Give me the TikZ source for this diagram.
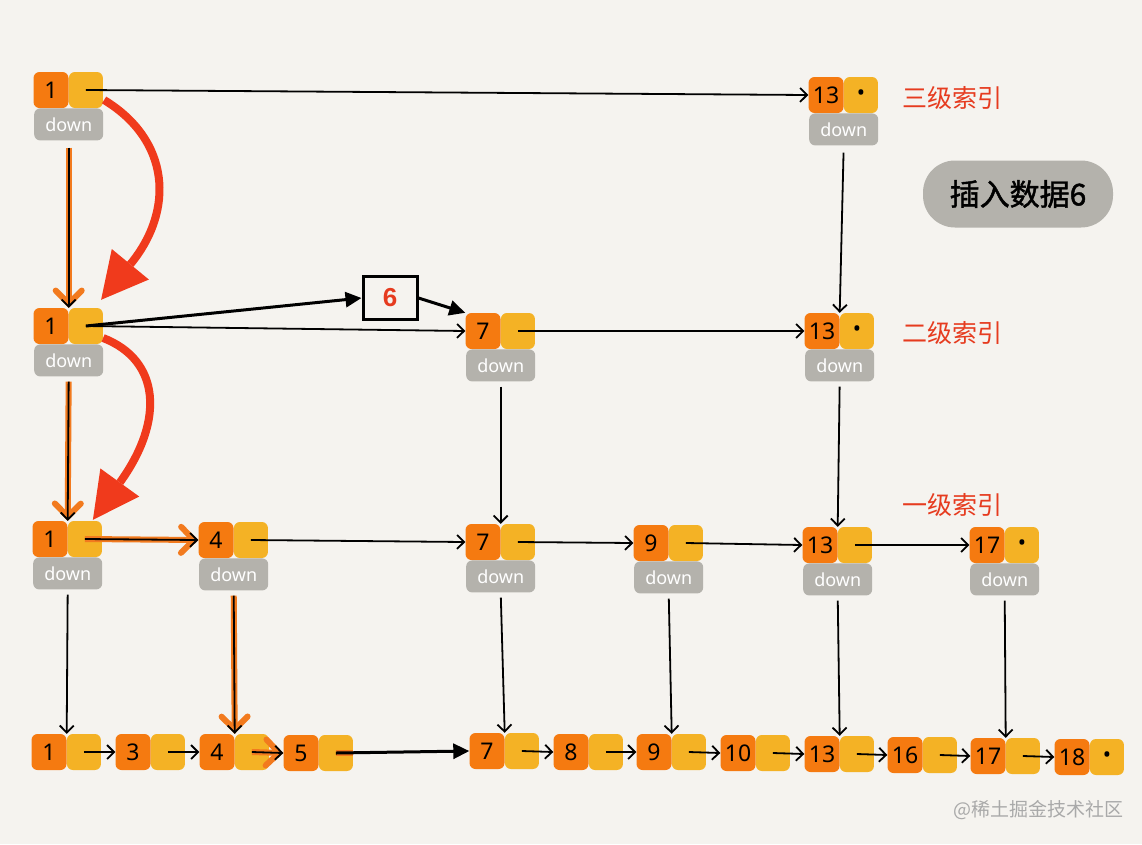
\documentclass[tikz,border=0pt]{standalone}
\usepackage{fontspec}
\setmainfont{Noto Sans}
\newfontfamily\cjk{Noto Sans CJK SC}
\newfontfamily\cjkbold[FakeBold=1.5]{Noto Sans CJK SC}
\newfontfamily\boldsans{Liberation Sans}
\usetikzlibrary{positioning,arrows.meta,calc}
\definecolor{bgc}{HTML}{F5F3EF}
\definecolor{keyc}{HTML}{F57A10}
\definecolor{ptrc}{HTML}{F4B225}
\definecolor{downc}{HTML}{B4B2AC}
\definecolor{redc}{HTML}{F03A1C}
\definecolor{redl}{HTML}{E63B1F}
\definecolor{trailc}{HTML}{F27A1E}
\definecolor{markc}{HTML}{A9A9A9}
\tikzset{
  keybox/.style={fill=keyc, rounded corners=6pt, minimum width=35pt, minimum height=36pt, inner sep=0pt, font=\fontsize{23}{23}\selectfont},
  ptrbox/.style={fill=ptrc, rounded corners=6pt, minimum width=34pt, minimum height=36pt, inner sep=0pt, font=\fontsize{22}{22}\selectfont},
  downbox/.style={fill=downc, rounded corners=6pt, minimum width=69pt, minimum height=32pt, inner sep=0pt, text=white, font=\fontsize{18}{18}\selectfont},
  link/.style={draw, line width=1.8pt, -{Straight Barb[length=7pt,width=14pt]}},
  newlink/.style={draw, line width=3pt, -{Triangle[length=16pt,width=15pt]}},
  trail/.style={draw=trailc, line width=6pt, -{Straight Barb[length=13pt,width=26pt,line cap=round]}},
  redcurve/.style={draw=redc, line width=8pt, -{Triangle[length=46pt,width=48pt,line width=0pt]}},
  level/.style={text=redl, font=\cjk\fontsize{25}{25}\selectfont},
}
\begin{document}
\begin{tikzpicture}[x=1pt,y=-1pt]
    \useasboundingbox (0,0) rectangle (1142,844);
    \fill[bgc] (0,0) rectangle (1142,844);

    % level 3
    \node[keybox] (k3a) at (51,90) {1};
    \node[ptrbox, right=0pt of k3a] (p3a) {};
    \node[downbox, below=0pt of k3a.south east] (d3a) {down};
    \node[keybox] (k3b) at (826,95) {13};
    \node[ptrbox, right=0pt of k3b] (p3b) {\textbullet};
    \node[downbox, below=0pt of k3b.south east] (d3b) {down};
    \node[level] (lab3) at (952,98) {三级索引};
    \node[fill=downc, rounded corners=32pt, minimum width=190pt, minimum height=67pt, font=\cjkbold\fontsize{30}{30}\selectfont] (note) at (1018,194) {插入数据6};

    % level 2
    \node[keybox] (k2a) at (51,326) {1};
    \node[ptrbox, right=0pt of k2a] (p2a) {};
    \node[downbox, below=0pt of k2a.south east] (d2a) {down};
    \node[keybox] (k2b) at (483,331) {7};
    \node[ptrbox, right=0pt of k2b] (p2b) {};
    \node[downbox, below=0pt of k2b.south east] (d2b) {down};
    \node[keybox] (k2c) at (822,331) {13};
    \node[ptrbox, right=0pt of k2c] (p2c) {\textbullet};
    \node[downbox, below=0pt of k2c.south east] (d2c) {down};
    \node[level] (lab2) at (952,333) {二级索引};
    \node[draw, line width=3pt, minimum width=54pt, minimum height=43pt, text=redl, font=\boldsans\bfseries\fontsize{26}{26}\selectfont] (six) at (390,298) {6};

    % level 1
    \node[keybox] (k1a) at (50,539) {1};
    \node[ptrbox, right=0pt of k1a] (p1a) {};
    \node[downbox, below=0pt of k1a.south east] (d1a) {down};
    \node[keybox] (k1b) at (216,540) {4};
    \node[ptrbox, right=0pt of k1b] (p1b) {};
    \node[downbox, below=0pt of k1b.south east] (d1b) {down};
    \node[keybox] (k1c) at (483,542) {7};
    \node[ptrbox, right=0pt of k1c] (p1c) {};
    \node[downbox, below=0pt of k1c.south east] (d1c) {down};
    \node[keybox] (k1d) at (651,543) {9};
    \node[ptrbox, right=0pt of k1d] (p1d) {};
    \node[downbox, below=0pt of k1d.south east] (d1d) {down};
    \node[keybox] (k1e) at (820,545) {13};
    \node[ptrbox, right=0pt of k1e] (p1e) {};
    \node[downbox, below=0pt of k1e.south east] (d1e) {down};
    \node[keybox] (k1f) at (987,545) {17};
    \node[ptrbox, right=0pt of k1f] (p1f) {\textbullet};
    \node[downbox, below=0pt of k1f.south east] (d1f) {down};
    \node[level] (lab1) at (952,505) {一级索引};

    % raw list
    \node[keybox] (k0a) at (49,752) {1};
    \node[ptrbox, right=0pt of k0a] (p0a) {};
    \node[keybox] (k0b) at (133,752) {3};
    \node[ptrbox, right=0pt of k0b] (p0b) {};
    \node[keybox] (k0c) at (217,752) {4};
    \node[ptrbox, right=0pt of k0c] (p0c) {};
    \node[keybox] (k0d) at (301,753) {5};
    \node[ptrbox, right=0pt of k0d] (p0d) {};
    \node[keybox] (k0e) at (487,751) {7};
    \node[ptrbox, right=0pt of k0e] (p0e) {};
    \node[keybox] (k0f) at (571,752) {8};
    \node[ptrbox, right=0pt of k0f] (p0f) {};
    \node[keybox] (k0g) at (654,752) {9};
    \node[ptrbox, right=0pt of k0g] (p0g) {};
    \node[keybox] (k0h) at (738,753) {10};
    \node[ptrbox, right=0pt of k0h] (p0h) {};
    \node[keybox] (k0i) at (822,754) {13};
    \node[ptrbox, right=0pt of k0i] (p0i) {};
    \node[keybox] (k0j) at (905,755) {16};
    \node[ptrbox, right=0pt of k0j] (p0j) {};
    \node[keybox] (k0k) at (988,756) {17};
    \node[ptrbox, right=0pt of k0k] (p0k) {};
    \node[keybox] (k0l) at (1072,757) {18};
    \node[ptrbox, right=0pt of k0l] (p0l) {\textbullet};
    \node[text=markc, font=\cjk\fontsize{19}{19}\selectfont] (mark) at (1038,810) {@稀土掘金技术社区};

    % search path
    \draw[trail, shorten <=7pt] (d3a.south) -- (k2a.north east);
    \draw[trail, shorten <=5pt] (d2a.south) -- (k1a.north east);
    \draw[trail] (p1a.center) -- (k1b.west);
    \draw[trail, shorten <=5pt] (d1b.south) -- (k0c.north east);
    \draw[trail] (p0c.center) -- (k0d.west);
    \draw[draw=trailc, line width=6pt] (p0d.center) -- (p0d.east);

    % links
    \draw[link] (p3a.center) -- (k3b.west);
    \draw[link, shorten <=7pt] (d3a.south) -- (k2a.north east);
    \draw[link, shorten <=7pt] (d3b.south) -- (k2c.north east);
    \draw[link] (p2a.center) -- (k2b.west);
    \draw[link] (p2b.center) -- (k2c.west);
    \draw[link, shorten <=5pt] (d2a.south) -- (k1a.north east);
    \draw[link, shorten <=5pt] (d2b.south) -- (k1c.north east);
    \draw[link, shorten <=5pt] (d2c.south) -- (k1e.north east);
    \draw[link] (p1a.center) -- (k1b.west);
    \draw[link] (p1b.center) -- (k1c.west);
    \draw[link] (p1c.center) -- (k1d.west);
    \draw[link] (p1d.center) -- (k1e.west);
    \draw[link] (p1e.center) -- (k1f.west);
    \draw[link, shorten <=5pt] (d1a.south) -- (k0a.north east);
    \draw[link, shorten <=5pt] (d1b.south) -- (k0c.north east);
    \draw[link, shorten <=5pt] (d1c.south) -- (k0e.north east);
    \draw[link, shorten <=5pt] (d1d.south) -- (k0g.north east);
    \draw[link, shorten <=5pt] (d1e.south) -- (k0i.north east);
    \draw[link, shorten <=5pt] (d1f.south) -- (k0k.north east);
    \draw[link] (p0a.center) -- (k0b.west);
    \draw[link] (p0b.center) -- (k0c.west);
    \draw[link] (p0c.center) -- (k0d.west);
    \draw[link] (p0e.center) -- (k0f.west);
    \draw[link] (p0f.center) -- (k0g.west);
    \draw[link] (p0g.center) -- (k0h.west);
    \draw[link] (p0h.center) -- (k0i.west);
    \draw[link] (p0i.center) -- (k0j.west);
    \draw[link] (p0j.center) -- (k0k.west);
    \draw[link] (p0k.center) -- (k0l.west);

    % new node 6
    \draw[newlink] (p2a.center) -- (six.west);
    \draw[newlink] (six.east) -- (k2b.north west);
    \draw[newlink] (p0d.center) -- (k0e.west);

    % red hops
    \draw[redcurve] ($(p3a.east)+(1,10)$) .. controls (170,140) and (175,210) .. ($(p2a.north east)+(-2,-8)$);
    \draw[redcurve] ($(p2a.east)+(0,12)$) .. controls (160,360) and (165,420) .. ($(p1a.north)+(8,-1)$);
\end{tikzpicture}
\end{document}
